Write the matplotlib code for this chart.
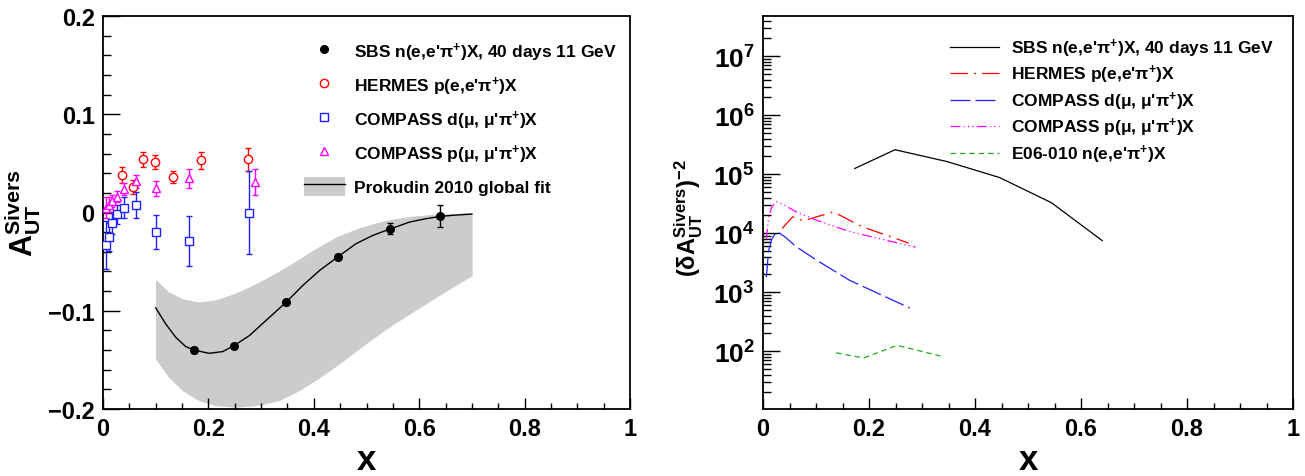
import matplotlib
matplotlib.use("Agg")
import matplotlib.pyplot as plt
import numpy as np
from matplotlib import ticker
from matplotlib.lines import Line2D
from matplotlib.patches import Patch

plt.rcParams['font.family'] = 'Liberation Sans'
plt.rcParams['font.weight'] = 'bold'
plt.rcParams['mathtext.fontset'] = 'custom'
plt.rcParams['mathtext.rm'] = 'Liberation Sans:bold'
plt.rcParams['mathtext.it'] = 'Liberation Sans:bold'
plt.rcParams['mathtext.bf'] = 'Liberation Sans:bold'
plt.rcParams['mathtext.sf'] = 'Liberation Sans:bold'
plt.rcParams['mathtext.default'] = 'bf'

# --- SBS projected points ---
sbs_x = [0.173, 0.249, 0.347, 0.446, 0.544, 0.640]
sbs_y = [-0.140, -0.1355, -0.0915, -0.0454, -0.0165, -0.0037]
sbs_err = [0.0028, 0.0020, 0.0025, 0.0034, 0.0055, 0.0114]
sbs_fom = [1.25e5, 2.6e5, 1.64e5, 8.8e4, 3.3e4, 7.5e3]

# --- HERMES ---
her_x = [0.036, 0.056, 0.076, 0.098, 0.133, 0.186, 0.275]
her_y = [0.038, 0.026, 0.054, 0.051, 0.036, 0.053, 0.054]
her_err = [0.008, 0.007, 0.0072, 0.0072, 0.0063, 0.0085, 0.012]
her_fom = [1.2e4, 1.9e4, 1.62e4, 1.86e4, 2.3e4, 1.3e4, 6.8e3]

# --- COMPASS deuteron ---
cd_x = [0.0063, 0.0105, 0.0164, 0.0257, 0.0399, 0.0629, 0.101, 0.163, 0.277]
cd_y = [-0.033, -0.025, -0.0105, -0.002, 0.0048, 0.0075, -0.020, -0.029, 0.0]
cd_err = [0.024, 0.014, 0.011, 0.0097, 0.0105, 0.013, 0.0172, 0.025, 0.042]
cd_fom = [1.8e3, 5.0e3, 7.9e3, 1.07e4, 8.9e3, 5.9e3, 3.5e3, 1.6e3, 5.4e2]

# --- COMPASS proton ---
cp_x = [0.0063, 0.0105, 0.0164, 0.0257, 0.0399, 0.0629, 0.101, 0.163, 0.288]
cp_y = [0.005, 0.008, 0.012, 0.016, 0.024, 0.032, 0.0246, 0.035, 0.031]
cp_err = [0.011, 0.0075, 0.006, 0.0054, 0.0058, 0.0066, 0.0078, 0.0097, 0.013]
cp_fom = [8.0e3, 1.8e4, 2.8e4, 3.4e4, 3.0e4, 2.3e4, 1.66e4, 1.07e4, 5.8e3]

# --- E06-010 ---
e06_x = [0.138, 0.19, 0.253, 0.335]
e06_fom = [94, 77, 126, 83]

# --- Prokudin 2010 fit (curve + band) ---
fit_x = [0.100, 0.119, 0.138, 0.157, 0.173, 0.201, 0.227, 0.249, 0.278, 0.309,
         0.347, 0.379, 0.411, 0.445, 0.480, 0.512, 0.544, 0.582, 0.613, 0.641,
         0.670, 0.700]
fit_y = [-0.097, -0.1134, -0.127, -0.1365, -0.140, -0.1433, -0.1416, -0.1354,
         -0.1252, -0.110, -0.0916, -0.0743, -0.059, -0.0454, -0.0318, -0.0233,
         -0.0169, -0.0097, -0.0063, -0.0039, -0.0026, -0.0016]
band_up_x = [0.100, 0.125, 0.151, 0.176, 0.201, 0.233, 0.271, 0.309, 0.3535,
             0.398, 0.442, 0.4866, 0.531, 0.582, 0.639, 0.700]
band_up_y = [-0.0685, -0.0811, -0.0879, -0.0913, -0.0906, -0.0862, -0.0777,
             -0.0675, -0.0539, -0.0386, -0.025, -0.0155, -0.0087, -0.0039,
             -0.0016, -0.0005]
band_lo_x = [0.100, 0.125, 0.151, 0.182, 0.214, 0.252, 0.290, 0.334, 0.372,
             0.417, 0.461, 0.506, 0.556, 0.607, 0.658, 0.700]
band_lo_y = [-0.149, -0.1677, -0.1813, -0.1915, -0.1966, -0.1983, -0.1966,
             -0.1915, -0.1813, -0.166, -0.149, -0.1303, -0.1117, -0.0947,
             -0.0777, -0.0641]

lab_sbs = r"SBS n(e,e'$\pi^{+}$)X, 40 days 11 GeV"
lab_her = r"HERMES p(e,e'$\pi^{+}$)X"
lab_cd = r"COMPASS d($\mu$, $\mu$'$\pi^{+}$)X"
lab_cp = r"COMPASS p($\mu$, $\mu$'$\pi^{+}$)X"
lab_fit = "Prokudin 2010 global fit"
lab_e06 = r"E06-010 n(e,e'$\pi^{+}$)X"

W, H = 1305, 477
fig = plt.figure(figsize=(W / 100, H / 100), dpi=100)
ax1 = fig.add_axes([103 / W, 67 / H, 527 / W, 393 / H])
ax2 = fig.add_axes([763 / W, 67 / H, 530 / W, 393 / H])


def style_axes(ax):
    for s in ax.spines.values():
        s.set_linewidth(1.3)
    ax.tick_params(which='both', direction='in', top=False, right=False,
                   labelsize=17, width=1.0, pad=6)
    ax.tick_params(axis='y', which='major', length=12)
    ax.tick_params(axis='y', which='minor', length=6)
    ax.tick_params(axis='x', which='major', length=8)
    ax.tick_params(axis='x', which='minor', length=4)
    for lab in ax.get_xticklabels() + ax.get_yticklabels():
        lab.set_fontweight('bold')


def x_label(ax):
    lab = ax.set_xlabel('x', fontsize=25, fontweight='bold')
    lab.set_verticalalignment('baseline')
    ax.xaxis.set_label_coords(0.5, -0.152)


fmt = ticker.FuncFormatter(lambda v, p: f'{v:g}'.replace('-', '\u2212'))

YMIN, YMAX = 10.5, 4.8e7
_logfmt = ticker.LogFormatterMathtext()


def log_fmt(v, p):
    # only label decades that lie inside the visible range
    if v < YMIN or v > YMAX:
        return ''
    return _logfmt(v, p)


# ---------------- left panel ----------------
ax1.fill_between(band_up_x, band_up_y, np.interp(band_up_x, band_lo_x, band_lo_y),
                 color='#cccccc', lw=0, zorder=1)
ax1.fill_between(band_lo_x, np.interp(band_lo_x, band_up_x, band_up_y), band_lo_y,
                 color='#cccccc', lw=0, zorder=1)
ax1.plot(fit_x, fit_y, color='black', lw=1.0, zorder=2)

eb = dict(capsize=2.5, elinewidth=1.0, capthick=1.0, ls='none', zorder=3)
ax1.errorbar(her_x, her_y, yerr=her_err, fmt='o', color='red', mfc='white',
             mec='red', ms=6, mew=1.0, **eb)
ax1.errorbar(cd_x, cd_y, yerr=cd_err, fmt='s', color='#2020ff', mfc='white',
             mec='#2020ff', ms=6, mew=1.0, **eb)
ax1.errorbar(cp_x, cp_y, yerr=cp_err, fmt='^', color='magenta', mfc='white',
             mec='magenta', ms=6, mew=1.0, **eb)
ax1.errorbar(sbs_x, sbs_y, yerr=sbs_err, fmt='o', color='black', ms=5.5, **eb)

ax1.set_xlim(0, 1)
ax1.set_ylim(-0.2, 0.2)
ax1.xaxis.set_major_locator(ticker.MultipleLocator(0.2))
ax1.xaxis.set_minor_locator(ticker.MultipleLocator(0.05))
ax1.yaxis.set_major_locator(ticker.MultipleLocator(0.1))
ax1.yaxis.set_minor_locator(ticker.MultipleLocator(0.02))
ax1.xaxis.set_major_formatter(fmt)
ax1.yaxis.set_major_formatter(fmt)
style_axes(ax1)
x_label(ax1)
ax1.set_ylabel(r'$A_{UT}^{Sivers}$', fontsize=22)
ax1.yaxis.set_label_coords(-0.113, 0.5)

h_left = [
    Line2D([], [], ls='none', marker='o', color='black', ms=5.5),
    Line2D([], [], ls='none', marker='o', mfc='white', mec='red', ms=6),
    Line2D([], [], ls='none', marker='s', mfc='white', mec='#2020ff', ms=6),
    Line2D([], [], ls='none', marker='^', mfc='white', mec='magenta', ms=6),
    (Patch(facecolor='#cccccc', edgecolor='none'), Line2D([], [], color='black', lw=1.0)),
]
ax1.legend(h_left, [lab_sbs, lab_her, lab_cd, lab_cp, lab_fit],
           loc='upper left', bbox_to_anchor=(0.368, 0.956), frameon=False,
           fontsize=12.5, handlelength=2.36, handleheight=1.3,
           handletextpad=0.5, labelspacing=0.68, borderaxespad=0)

# ---------------- right panel ----------------
ax2.plot(sbs_x, sbs_fom, color='black', lw=0.9)
ax2.plot(her_x, her_fom, color='red', lw=0.9, dashes=(14, 5, 1.5, 5))
ax2.plot(cd_x, cd_fom, color='#2020ff', lw=0.9, dashes=(16, 4))
ax2.plot(cp_x, cp_fom, color='magenta', lw=0.9, dashes=(8, 2.5, 1, 2.5, 1, 2.5, 1, 2.5))
ax2.plot(e06_x, e06_fom, color='#22aa22', lw=0.9, dashes=(4.5, 3))

ax2.set_yscale('log')
ax2.set_xlim(0, 1)
ax2.set_ylim(YMIN, YMAX)
ax2.xaxis.set_major_locator(ticker.MultipleLocator(0.2))
ax2.xaxis.set_minor_locator(ticker.MultipleLocator(0.05))
ax2.xaxis.set_major_formatter(fmt)
ax2.yaxis.set_major_locator(ticker.LogLocator(base=10, numticks=12))
ax2.yaxis.set_major_formatter(ticker.FuncFormatter(log_fmt))
ax2.yaxis.set_minor_locator(ticker.LogLocator(base=10, subs=np.arange(2, 10), numticks=12))
ax2.yaxis.set_minor_formatter(ticker.NullFormatter())
style_axes(ax2)
ax2.tick_params(axis='y', labelsize=19)
x_label(ax2)
ax2.set_ylabel(r'$(\delta A_{UT}^{Sivers})^{-2}$', fontsize=17)
ax2.yaxis.set_label_coords(-0.109, 0.49)

h_right = [
    Line2D([], [], color='black', lw=0.9),
    Line2D([], [], color='red', lw=0.9, dashes=(14, 5, 1.5, 5)),
    Line2D([], [], color='#2020ff', lw=0.9, dashes=(16, 4)),
    Line2D([], [], color='magenta', lw=0.9, dashes=(8, 2.5, 1, 2.5, 1, 2.5, 1, 2.5)),
    Line2D([], [], color='#22aa22', lw=0.9, dashes=(4.5, 3)),
]
ax2.legend(h_right, [lab_sbs, lab_her, lab_cd, lab_cp, lab_e06],
           loc='upper left', bbox_to_anchor=(0.34, 0.965), frameon=False,
           fontsize=12.5, handlelength=2.8, handletextpad=0.7,
           labelspacing=0.24, borderaxespad=0)

fig.savefig('out.png', dpi=100)
